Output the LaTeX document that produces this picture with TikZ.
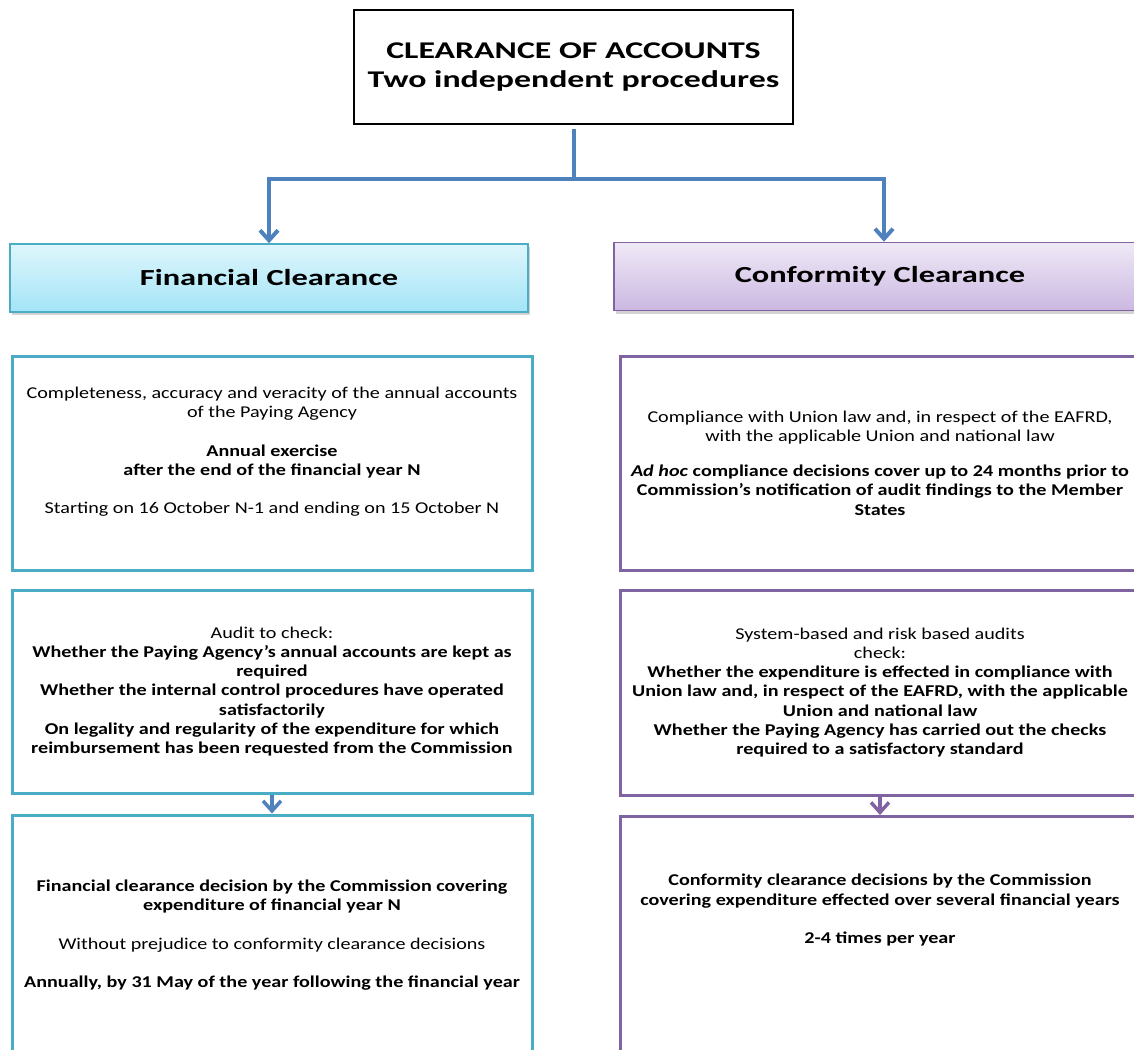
\documentclass[tikz,border=0pt]{standalone}
\usepackage{fontspec}
\setmainfont{Carlito}[FakeStretch=1.22]
\newfontfamily\widefont{Carlito}[FakeStretch=1.41]
\usepackage{xcolor}
\usetikzlibrary{arrows.meta, shadows, positioning}

\definecolor{linkblue}{HTML}{4F81BD}
\definecolor{finborder}{HTML}{4BACC6}
\definecolor{confborder}{HTML}{8064A2}
\definecolor{fintop}{HTML}{DFF6FC}
\definecolor{finbottom}{HTML}{A3E4F7}
\definecolor{conftop}{HTML}{EFE9F6}
\definecolor{confbottom}{HTML}{CBB8E2}

\tikzset{
  titlebox/.style={draw=black, line width=2.5pt, minimum width=439pt, minimum height=114pt,
    align=center, font=\widefont\bfseries\fontsize{24}{29}\selectfont},
  headbox/.style={line width=1.5pt, minimum height=68pt, font=\widefont\bfseries\fontsize{23}{28}\selectfont,
    drop shadow={shadow xshift=2pt, shadow yshift=-3pt, opacity=0.35}},
  finhead/.style={headbox, draw=finborder, top color=fintop, bottom color=finbottom, minimum width=518pt},
  confhead/.style={headbox, draw=confborder, top color=conftop, bottom color=confbottom, minimum width=532pt},
  infobox/.style={line width=3pt, fill=white, minimum width=520pt, align=center,
    font=\fontsize{16.5}{19.3}\selectfont},
  finbox/.style={infobox, draw=finborder},
  confbox/.style={infobox, draw=confborder},
  infotext/.style={align=center, font=\fontsize{16.5}{19.3}\selectfont},
  link/.style={draw=linkblue, line width=4pt},
  linkarrow/.style={link, -{Straight Barb[length=10pt, width=18pt]}},
}

\begin{document}
\begin{tikzpicture}[x=1pt, y=-1pt]
    \fill[white] (0,0) rectangle (1134,1049);
    \useasboundingbox (0,0) rectangle (1134,1049);

    % Title box
    \node[titlebox] (title) at (573.5,67) {CLEARANCE OF ACCOUNTS\\Two independent procedures};

    % Column headers
    \node[finhead] (fin) at (269,278) {Financial Clearance};
    \node[confhead] (conf) at (880,276.5) {Conformity Clearance};

    % Split connector
    \draw[link] ([yshift=-4pt]title.south) -- ++(0,50) coordinate (split);
    \draw[linkarrow] (split) -| (fin.north);
    \draw[linkarrow] (split) -| ([xshift=4pt]conf.north);

    % Financial clearance column
    \node[finbox, minimum height=214pt] (fin1) at (272,463) {Completeness, accuracy and veracity of the annual accounts\\
      of the Paying Agency\\[19pt]
      \textbf{Annual exercise}\\
      \textbf{after the end of the financial year N}\\[19pt]
      Starting on 16 October N-1 and ending on 15 October N\\[6pt]};
    \node[finbox, minimum height=203pt] (fin2) at (272,691.5) {Audit to check:\\
      \textbf{Whether the Paying Agency's annual accounts are kept as}\\
      \textbf{required}\\
      \textbf{Whether the internal control procedures have operated}\\
      \textbf{satisfactorily}\\
      \textbf{On legality and regularity of the expenditure for which}\\
      \textbf{reimbursement has been requested from the Commission}};
    \node[finbox, minimum height=240pt] (fin3) at (272,935) {\textbf{Financial clearance decision by the Commission covering}\\
      \textbf{expenditure of financial year N}\\[19pt]
      Without prejudice to conformity clearance decisions\\[19pt]
      \textbf{Annually, by 31 May of the year following the financial year}};

    % Conformity clearance column
    \node[confbox, minimum height=214pt] (conf1) at (880,463) {Compliance with Union law and, in respect of the EAFRD,\\
      with the applicable Union and national law\\[16pt]
      \textbf{\textit{Ad hoc} compliance decisions cover up to 24 months prior to}\\
      \textbf{Commission's notification of audit findings to the Member}\\
      \textbf{States}};
    \node[confbox, minimum height=205pt] (conf2) at (880,692.5) {System-based and risk based audits\\
      check:\\
      \textbf{Whether the expenditure is effected in compliance with}\\
      \textbf{Union law and, in respect of the EAFRD, with the applicable}\\
      \textbf{Union and national law}\\
      \textbf{Whether the Paying Agency has carried out the checks}\\
      \textbf{required to a satisfactory standard}};
    \node[confbox, minimum height=250pt, anchor=north] (conf3) at (880,815) {};
    \node[infotext] (conf3text) at (880,910) {\textbf{Conformity clearance decisions by the Commission}\\
      \textbf{covering expenditure effected over several financial years}\\[19pt]
      \textbf{2-4 times per year}};

    % Step arrows
    \draw[linkarrow, line width=3.5pt] (fin2.south) -- (fin3.north);
    \draw[linkarrow, line width=3.5pt, draw=confborder] (conf2.south) -- (conf3.north);
\end{tikzpicture}
\end{document}
